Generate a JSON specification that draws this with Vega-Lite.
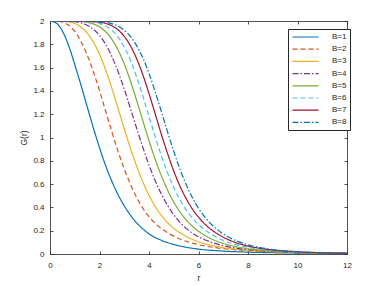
{
  "$schema": "https://vega.github.io/schema/vega-lite/v6.json",
  "width": 297,
  "height": 233,
  "autosize": {"type": "none"},
  "padding": {"left": 50, "top": 21, "right": 35, "bottom": 32},
  "background": "white",
  "config": {
    "font": "Liberation Sans",
    "view": {"stroke": null},
    "axis": {
      "domainColor": "#262626", "tickColor": "#262626", "labelColor": "#262626", "titleColor": "#262626",
      "domainWidth": 0.8, "tickWidth": 0.8, "tickSize": -3, "grid": false,
      "labelFontSize": 8, "titleFontSize": 8.5, "titleFontWeight": "normal"
    }
  },
  "data": {"values": [
    {"B":"B=1","r":0,"G":2},{"B":"B=1","r":0.25,"G":1.983},{"B":"B=1","r":0.5,"G":1.914},{"B":"B=1","r":0.75,"G":1.791},{"B":"B=1","r":1,"G":1.626},{"B":"B=1","r":1.25,"G":1.451},{"B":"B=1","r":1.5,"G":1.266},{"B":"B=1","r":1.75,"G":1.084},{"B":"B=1","r":2,"G":0.913},{"B":"B=1","r":2.25,"G":0.758},{"B":"B=1","r":2.5,"G":0.624},{"B":"B=1","r":2.75,"G":0.509},{"B":"B=1","r":3,"G":0.413},{"B":"B=1","r":3.25,"G":0.333},{"B":"B=1","r":3.5,"G":0.268},{"B":"B=1","r":3.75,"G":0.216},{"B":"B=1","r":4,"G":0.173},{"B":"B=1","r":4.5,"G":0.118},{"B":"B=1","r":5,"G":0.082},{"B":"B=1","r":5.5,"G":0.058},{"B":"B=1","r":6,"G":0.042},{"B":"B=1","r":7,"G":0.025},{"B":"B=1","r":8,"G":0.016},{"B":"B=1","r":9,"G":0.011},{"B":"B=1","r":10,"G":0.008},{"B":"B=1","r":11,"G":0.006},{"B":"B=1","r":12,"G":0.004},
    {"B":"B=2","r":0,"G":2},{"B":"B=2","r":0.25,"G":1.999},{"B":"B=2","r":0.5,"G":1.99},{"B":"B=2","r":0.75,"G":1.964},{"B":"B=2","r":1,"G":1.911},{"B":"B=2","r":1.25,"G":1.825},{"B":"B=2","r":1.5,"G":1.709},{"B":"B=2","r":1.75,"G":1.566},{"B":"B=2","r":2,"G":1.401},{"B":"B=2","r":2.25,"G":1.225},{"B":"B=2","r":2.5,"G":1.048},{"B":"B=2","r":2.75,"G":0.881},{"B":"B=2","r":3,"G":0.73},{"B":"B=2","r":3.25,"G":0.598},{"B":"B=2","r":3.5,"G":0.486},{"B":"B=2","r":3.75,"G":0.393},{"B":"B=2","r":4,"G":0.32},{"B":"B=2","r":4.25,"G":0.263},{"B":"B=2","r":4.5,"G":0.218},{"B":"B=2","r":4.75,"G":0.182},{"B":"B=2","r":5,"G":0.152},{"B":"B=2","r":5.5,"G":0.109},{"B":"B=2","r":6,"G":0.08},{"B":"B=2","r":6.5,"G":0.06},{"B":"B=2","r":7,"G":0.046},{"B":"B=2","r":8,"G":0.028},{"B":"B=2","r":9,"G":0.018},{"B":"B=2","r":10,"G":0.012},{"B":"B=2","r":11,"G":0.0085},{"B":"B=2","r":12,"G":0.006},
    {"B":"B=3","r":0,"G":2},{"B":"B=3","r":0.5,"G":1.999},{"B":"B=3","r":0.75,"G":1.993},{"B":"B=3","r":1,"G":1.979},{"B":"B=3","r":1.25,"G":1.949},{"B":"B=3","r":1.5,"G":1.897},{"B":"B=3","r":1.75,"G":1.82},{"B":"B=3","r":2,"G":1.714},{"B":"B=3","r":2.25,"G":1.58},{"B":"B=3","r":2.5,"G":1.422},{"B":"B=3","r":2.75,"G":1.25},{"B":"B=3","r":3,"G":1.075},{"B":"B=3","r":3.25,"G":0.907},{"B":"B=3","r":3.5,"G":0.754},{"B":"B=3","r":3.75,"G":0.62},{"B":"B=3","r":4,"G":0.505},{"B":"B=3","r":4.25,"G":0.409},{"B":"B=3","r":4.5,"G":0.331},{"B":"B=3","r":4.75,"G":0.269},{"B":"B=3","r":5,"G":0.22},{"B":"B=3","r":5.25,"G":0.182},{"B":"B=3","r":5.5,"G":0.151},{"B":"B=3","r":5.75,"G":0.126},{"B":"B=3","r":6,"G":0.105},{"B":"B=3","r":6.5,"G":0.075},{"B":"B=3","r":7,"G":0.055},{"B":"B=3","r":7.5,"G":0.041},{"B":"B=3","r":8,"G":0.031},{"B":"B=3","r":9,"G":0.0185},{"B":"B=3","r":10,"G":0.0117},{"B":"B=3","r":11,"G":0.0077},{"B":"B=3","r":12,"G":0.0053},
    {"B":"B=4","r":0,"G":2},{"B":"B=4","r":1,"G":1.994},{"B":"B=4","r":1.25,"G":1.984},{"B":"B=4","r":1.5,"G":1.964},{"B":"B=4","r":1.75,"G":1.929},{"B":"B=4","r":2,"G":1.876},{"B":"B=4","r":2.25,"G":1.799},{"B":"B=4","r":2.5,"G":1.695},{"B":"B=4","r":2.75,"G":1.566},{"B":"B=4","r":3,"G":1.415},{"B":"B=4","r":3.25,"G":1.25},{"B":"B=4","r":3.5,"G":1.08},{"B":"B=4","r":3.75,"G":0.916},{"B":"B=4","r":4,"G":0.764},{"B":"B=4","r":4.25,"G":0.629},{"B":"B=4","r":4.5,"G":0.514},{"B":"B=4","r":4.75,"G":0.417},{"B":"B=4","r":5,"G":0.337},{"B":"B=4","r":5.25,"G":0.272},{"B":"B=4","r":5.5,"G":0.22},{"B":"B=4","r":5.75,"G":0.18},{"B":"B=4","r":6,"G":0.148},{"B":"B=4","r":6.25,"G":0.122},{"B":"B=4","r":6.5,"G":0.102},{"B":"B=4","r":7,"G":0.071},{"B":"B=4","r":7.5,"G":0.051},{"B":"B=4","r":8,"G":0.037},{"B":"B=4","r":8.5,"G":0.028},{"B":"B=4","r":9,"G":0.021},{"B":"B=4","r":10,"G":0.012},{"B":"B=4","r":11,"G":0.0077},{"B":"B=4","r":12,"G":0.005},
    {"B":"B=5","r":0,"G":2},{"B":"B=5","r":1,"G":1.999},{"B":"B=5","r":1.5,"G":1.989},{"B":"B=5","r":1.75,"G":1.975},{"B":"B=5","r":2,"G":1.95},{"B":"B=5","r":2.25,"G":1.907},{"B":"B=5","r":2.5,"G":1.843},{"B":"B=5","r":2.75,"G":1.751},{"B":"B=5","r":3,"G":1.631},{"B":"B=5","r":3.25,"G":1.484},{"B":"B=5","r":3.5,"G":1.319},{"B":"B=5","r":3.75,"G":1.145},{"B":"B=5","r":4,"G":0.973},{"B":"B=5","r":4.25,"G":0.813},{"B":"B=5","r":4.5,"G":0.671},{"B":"B=5","r":4.75,"G":0.549},{"B":"B=5","r":5,"G":0.446},{"B":"B=5","r":5.25,"G":0.362},{"B":"B=5","r":5.5,"G":0.294},{"B":"B=5","r":5.75,"G":0.239},{"B":"B=5","r":6,"G":0.195},{"B":"B=5","r":6.25,"G":0.16},{"B":"B=5","r":6.5,"G":0.132},{"B":"B=5","r":6.75,"G":0.109},{"B":"B=5","r":7,"G":0.091},{"B":"B=5","r":7.5,"G":0.064},{"B":"B=5","r":8,"G":0.045},{"B":"B=5","r":8.5,"G":0.033},{"B":"B=5","r":9,"G":0.0245},{"B":"B=5","r":10,"G":0.014},{"B":"B=5","r":11,"G":0.0084},{"B":"B=5","r":12,"G":0.0053},
    {"B":"B=6","r":0,"G":2},{"B":"B=6","r":1.5,"G":1.996},{"B":"B=6","r":1.75,"G":1.99},{"B":"B=6","r":2,"G":1.979},{"B":"B=6","r":2.25,"G":1.957},{"B":"B=6","r":2.5,"G":1.92},{"B":"B=6","r":2.75,"G":1.862},{"B":"B=6","r":3,"G":1.777},{"B":"B=6","r":3.25,"G":1.663},{"B":"B=6","r":3.5,"G":1.52},{"B":"B=6","r":3.75,"G":1.356},{"B":"B=6","r":4,"G":1.181},{"B":"B=6","r":4.25,"G":1.007},{"B":"B=6","r":4.5,"G":0.843},{"B":"B=6","r":4.75,"G":0.697},{"B":"B=6","r":5,"G":0.571},{"B":"B=6","r":5.25,"G":0.466},{"B":"B=6","r":5.5,"G":0.379},{"B":"B=6","r":5.75,"G":0.309},{"B":"B=6","r":6,"G":0.253},{"B":"B=6","r":6.25,"G":0.208},{"B":"B=6","r":6.5,"G":0.172},{"B":"B=6","r":6.75,"G":0.141},{"B":"B=6","r":7,"G":0.117},{"B":"B=6","r":7.25,"G":0.097},{"B":"B=6","r":7.5,"G":0.081},{"B":"B=6","r":8,"G":0.057},{"B":"B=6","r":8.5,"G":0.041},{"B":"B=6","r":9,"G":0.03},{"B":"B=6","r":10,"G":0.0167},{"B":"B=6","r":11,"G":0.0098},{"B":"B=6","r":12,"G":0.006},
    {"B":"B=7","r":0,"G":2},{"B":"B=7","r":1.5,"G":1.998},{"B":"B=7","r":2,"G":1.99},{"B":"B=7","r":2.25,"G":1.979},{"B":"B=7","r":2.5,"G":1.959},{"B":"B=7","r":2.75,"G":1.924},{"B":"B=7","r":3,"G":1.868},{"B":"B=7","r":3.25,"G":1.787},{"B":"B=7","r":3.5,"G":1.677},{"B":"B=7","r":3.75,"G":1.539},{"B":"B=7","r":4,"G":1.377},{"B":"B=7","r":4.25,"G":1.203},{"B":"B=7","r":4.5,"G":1.027},{"B":"B=7","r":4.75,"G":0.862},{"B":"B=7","r":5,"G":0.712},{"B":"B=7","r":5.25,"G":0.583},{"B":"B=7","r":5.5,"G":0.476},{"B":"B=7","r":5.75,"G":0.387},{"B":"B=7","r":6,"G":0.316},{"B":"B=7","r":6.25,"G":0.258},{"B":"B=7","r":6.5,"G":0.212},{"B":"B=7","r":6.75,"G":0.175},{"B":"B=7","r":7,"G":0.144},{"B":"B=7","r":7.25,"G":0.119},{"B":"B=7","r":7.5,"G":0.098},{"B":"B=7","r":8,"G":0.068},{"B":"B=7","r":8.5,"G":0.048},{"B":"B=7","r":9,"G":0.035},{"B":"B=7","r":10,"G":0.019},{"B":"B=7","r":11,"G":0.0107},{"B":"B=7","r":12,"G":0.0064},
    {"B":"B=8","r":0,"G":2},{"B":"B=8","r":1.5,"G":1.999},{"B":"B=8","r":2,"G":1.995},{"B":"B=8","r":2.25,"G":1.989},{"B":"B=8","r":2.5,"G":1.977},{"B":"B=8","r":2.75,"G":1.956},{"B":"B=8","r":3,"G":1.921},{"B":"B=8","r":3.25,"G":1.868},{"B":"B=8","r":3.5,"G":1.789},{"B":"B=8","r":3.75,"G":1.684},{"B":"B=8","r":4,"G":1.55},{"B":"B=8","r":4.25,"G":1.393},{"B":"B=8","r":4.5,"G":1.222},{"B":"B=8","r":4.75,"G":1.048},{"B":"B=8","r":5,"G":0.881},{"B":"B=8","r":5.25,"G":0.729},{"B":"B=8","r":5.5,"G":0.597},{"B":"B=8","r":5.75,"G":0.485},{"B":"B=8","r":6,"G":0.393},{"B":"B=8","r":6.25,"G":0.319},{"B":"B=8","r":6.5,"G":0.259},{"B":"B=8","r":6.75,"G":0.211},{"B":"B=8","r":7,"G":0.173},{"B":"B=8","r":7.25,"G":0.142},{"B":"B=8","r":7.5,"G":0.116},{"B":"B=8","r":7.75,"G":0.096},{"B":"B=8","r":8,"G":0.079},{"B":"B=8","r":8.5,"G":0.055},{"B":"B=8","r":9,"G":0.038},{"B":"B=8","r":9.5,"G":0.027},{"B":"B=8","r":10,"G":0.02},{"B":"B=8","r":11,"G":0.011},{"B":"B=8","r":12,"G":0.0064}
  ]},
  "resolve": {"axis": {"x": "independent", "y": "independent"}},
  "layer": [
    {
      "mark": {"type": "line", "strokeWidth": 1.2, "interpolate": "monotone", "clip": true},
      "encoding": {
        "x": {"field": "r", "type": "quantitative", "scale": {"domain": [0, 12], "nice": false, "zero": false},
              "axis": {"title": "r", "values": [0,2,4,6,8,10,12], "labelPadding": 10, "titlePadding": 4, "labelFlush": false}},
        "y": {"field": "G", "type": "quantitative", "scale": {"domain": [0, 2], "nice": false},
              "axis": {"title": "G(r)", "values": [0,0.2,0.4,0.6,0.8,1,1.2,1.4,1.6,1.8,2], "format": "~g", "labelPadding": 9, "titlePadding": 4, "labelFlush": false}},
        "color": {"field": "B", "type": "nominal",
          "scale": {"domain": ["B=1","B=2","B=3","B=4","B=5","B=6","B=7","B=8"],
                    "range": ["#0072BD","#D95319","#EDB120","#7E2F8E","#77AC30","#4DBEEE","#A2142F","#0072BD"]},
          "legend": {"title": null, "orient": "none", "legendX": 238, "legendY": 8,
                     "symbolType": "M-3.25,0L3.25,0", "symbolSize": 64, "symbolStrokeWidth": 1.2,
                     "symbolOffset": 9.5, "labelOffset": 21.4, "padding": 3, "rowPadding": 3.2,
                     "labelFontSize": 8, "labelColor": "#262626",
                     "strokeColor": "#262626", "fillColor": "white", "cornerRadius": 0}},
        "strokeDash": {"field": "B", "type": "nominal",
          "scale": {"domain": ["B=1","B=2","B=3","B=4","B=5","B=6","B=7","B=8"],
                    "range": [[1,0],[5,3],[1,0],[6,2,1.5,2],[1,0],[5,3],[1,0],[6,2,1.5,2]]}}
      }
    },
    {
      "mark": {"type": "line", "strokeOpacity": 0},
      "encoding": {
        "x": {"field": "r", "type": "quantitative", "scale": {"domain": [0, 12], "nice": false, "zero": false},
              "axis": {"orient": "top", "title": null, "labels": false, "values": [0,2,4,6,8,10,12]}},
        "y": {"field": "G", "type": "quantitative", "scale": {"domain": [0, 2], "nice": false},
              "axis": {"orient": "right", "title": null, "labels": false, "values": [0,0.2,0.4,0.6,0.8,1,1.2,1.4,1.6,1.8,2]}},
        "detail": {"field": "B", "type": "nominal"}
      }
    }
  ]
}
